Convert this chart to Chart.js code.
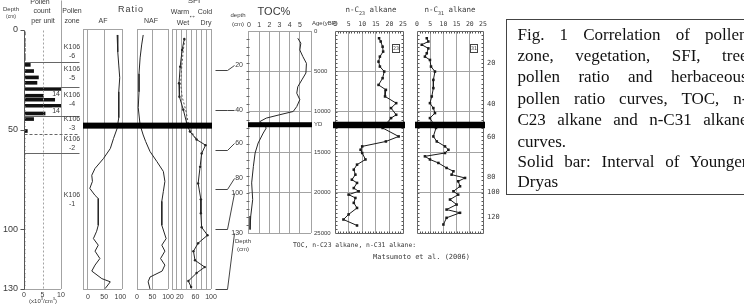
<!DOCTYPE html>
<html>
<head>
<meta charset="utf-8">
<script src="https://cdn.jsdelivr.net/npm/chart.js@4.4.1/dist/chart.umd.min.js"></script>
<style>
  body { margin: 0; background: #fff; }
  #wrap { position: relative; width: 744px; height: 305px; overflow: hidden; font-family: "Liberation Sans", "DejaVu Sans", sans-serif; color: #3a3a3a; }
  #wrap canvas { position: absolute; left: 0; top: 0; }
  .t { position: absolute; white-space: nowrap; line-height: 1; font-size: 7px; transform: translate(-50%, -50%); }
  .l { transform: translate(0, -50%); }
  .m { font-family: "DejaVu Sans Mono", monospace; }
  .sym { position: absolute; width: 6px; height: 7px; border: 1px solid #444; font: 5px "DejaVu Sans Mono", monospace; line-height: 7px; text-align: center; }
  #cap { position: absolute; left: 506px; top: 19px; width: 280px; height: 174px; border: 1.5px solid #444; }
  #cap div { position: absolute; left: 10.5px; width: 230px; height: 21px; line-height: 21px; font: 17px "Liberation Serif", serif; color: #111; white-space: nowrap; text-align: justify; text-align-last: justify; }
  #cap div.n { text-align-last: left; }
</style>
</head>
<body>
<div id="wrap">
  <canvas id="pollen" width="744" height="305"></canvas>
  <canvas id="af" width="744" height="305"></canvas>
  <canvas id="naf" width="744" height="305"></canvas>
  <canvas id="sfi" width="744" height="305"></canvas>
  <canvas id="toc" width="744" height="305"></canvas>
  <canvas id="c23" width="744" height="305"></canvas>
  <canvas id="c31" width="744" height="305"></canvas>

  <div class="t" style="left:11px;top:9px;font-size:6px">Depth</div>
  <div class="t" style="left:11px;top:16px;font-size:5px">(cm)</div>
  <div class="t" style="left:40px;top:1px">Pollen</div>
  <div class="t" style="left:42px;top:10px">count</div>
  <div class="t" style="left:43px;top:20px">per unit</div>
  <div class="t" style="left:72px;top:10px">Pollen</div>
  <div class="t" style="left:72px;top:20px">zone</div>
  <div class="t" style="left:43px;top:300px;font-size:6px">(x10<sup style="font-size:4px">3</sup>/cm<sup style="font-size:4px">3</sup>)</div>
  <div class="t" style="left:131px;top:9px;font-size:9px;letter-spacing:1px">Ratio</div>
  <div class="t" style="left:103px;top:20px">AF</div>
  <div class="t" style="left:151px;top:20px">NAF</div>
  <div class="t" style="left:194px;top:1px;font-size:8px">SFI</div>
  <div class="t" style="left:180px;top:11px">Warm</div>
  <div class="t" style="left:205px;top:11px">Cold</div>
  <div class="t" style="left:192px;top:16px;font-size:8px">&#8596;</div>
  <div class="t" style="left:183px;top:22px">Wet</div>
  <div class="t" style="left:206px;top:22px">Dry</div>
  <div class="t" style="left:238px;top:15px;font-size:6px">depth</div>
  <div class="t" style="left:238px;top:24px;font-size:6px">(cm)</div>
  <div class="t" style="left:274px;top:11px;font-size:11px">TOC%</div>
  <div class="t l" style="left:312px;top:23px;font-size:6px">Age(yBP)</div>
  <div class="t m" style="left:371px;top:11px;font-size:7.5px">n-C<sub style="font-size:5px">23</sub> alkane</div>
  <div class="t m" style="left:450px;top:11px;font-size:7.5px">n-C<sub style="font-size:5px">31</sub> alkane</div>
  <div class="t" style="left:243px;top:241px;font-size:6px">Depth</div>
  <div class="t" style="left:243px;top:249px;font-size:6px">(cm)</div>
  <div class="t l m" style="left:293px;top:245px;font-size:6.4px">TOC, n-C23 alkane, n-C31 alkane:</div>
  <div class="t l m" style="left:373px;top:257px;font-size:7px">Matsumoto et al. (2006)</div>
  <div class="sym" style="left:392px;top:44px">23</div>
  <div class="sym" style="left:470px;top:44px">31</div>

  <div id="cap">
    <div style="top:5px">Fig. 1 Correlation of pollen</div>
    <div style="top:26px">zone, vegetation, SFI, tree</div>
    <div style="top:47px">pollen ratio and herbaceous</div>
    <div style="top:69px">pollen ratio curves, TOC, n-</div>
    <div style="top:90px">C23 alkane and n-C31 alkane</div>
    <div class="n" style="top:112px">curves.</div>
    <div style="top:132px">Solid bar: Interval of Younger</div>
    <div class="n" style="top:152px">Dryas</div>
  </div>
</div>

<script>
// depth (cm) for the left panels
const depthTicks = [0, 50, 100, 130];

// pollen count per unit (x10^3/cm^3)
const pollenDepth = [1.7, 5, 7.5, 10, 12.6, 14.5, 17.5, 20.6, 23.8, 26.5, 29.6, 33, 35, 38, 41.9, 44.7, 50.7,
  55, 59, 63, 67, 71, 75, 79, 83, 87, 91, 95, 99, 103, 107, 111, 115, 119, 123, 127];
const pollenCount = [0.3, 0.3, 0.3, 0.3, 0.3, 0.3, 1.7, 2.6, 3.9, 3.5, 14, 5.3, 8.3, 14, 5.7, 2.6, 0.9,
  0.2, 0.2, 0.2, 0.2, 0.2, 0.2, 0.2, 0.2, 0.2, 0.2, 0.2, 0.2, 0.2, 0.2, 0.2, 0.2, 0.2, 0.2, 0.2];

// pollen zones
const zoneNames = ["K106\n-6", "K106\n-5", "K106\n-4", "K106\n-3", "K106\n-2", "K106\n-1"];
const zoneLabelDepth = [11, 22, 35, 47, 57, 85];
const zoneBounds = [16, 28.5, 43, 52.3, 61.7];
const zoneDashed = [false, false, false, true, false];

// tree (AF) and herbaceous (NAF) pollen ratio, %
const afDepth = [2.5, 11, 17.6, 24, 31, 37.7, 44, 49.4, 54.4, 59.5, 64.5, 69.5, 72.9, 76, 79.5, 83, 84.6, 91, 98, 101, 104.7, 108, 111, 114.7, 118, 121, 124.8, 126.4, 129.8];
const afValue = [90, 92, 95, 98, 95, 95, 95, 90, 79, 69, 48, 22, 12, 14, 6, 22, 32, 32, 32, 27, 17, 32, 22, 37, 22, 12, 43, 69, 53];
const nafDepth = [2.5, 7.5, 14, 22, 31, 39, 47.7, 52.7, 56, 61, 66, 71, 76, 81, 86, 91, 98, 104.7, 108, 111, 114.7, 118, 121, 124, 126.4, 130];
const nafValue = [20, 15, 10, 6.5, 6.5, 4, 10, 20, 28, 42, 64, 85, 90, 85, 80, 80, 80, 94, 80, 90, 76, 90, 81, 42, 36, 42];
const ratioTicks = [0, 50, 100];

// SFI
const sfiDepth = [4.5, 10, 18.4, 26.7, 33.5, 40, 47, 51, 55, 57.8, 62, 68.7, 77, 85, 92, 99, 103, 107, 111, 115.6, 119, 122, 126, 129];
const sfiValue = [31.5, 26, 21, 18, 19, 29, 38, 46, 63, 86, 76, 72, 67, 74, 74, 76, 91, 67, 55, 59, 84, 63, 42, 49];
const sfiDepth2 = [4.5, 10, 18.4, 26.7, 33.5, 40, 47, 51, 55];
const sfiValue2 = [33, 29, 25, 22, 26, 35, 42, 50, 63];
const sfiTicks = [20, 60, 100];

// TOC (%) against age (yBP)
const tocAge = [900, 1500, 2350, 3170, 4000, 5200, 6050, 6900, 7700, 8500, 9350, 9960, 10370, 10780, 11200, 12000, 12630, 13860, 15100, 16750, 18800, 20860, 22900, 24570];
const tocValue = [4.8, 5.1, 5.0, 5.3, 5.65, 5.6, 5.2, 4.8, 4.7, 5.0, 4.7, 4.35, 3.0, 1.7, 1.08, 1.7, 1.4, 0.9, 0.6, 0.43, 0.26, 0.36, 0.17, 0.1];
const tocTicks = [0, 1, 2, 3, 4, 5];
const ageTicks = [0, 5000, 10000, 15000, 20000, 25000];
const tocDepthMarks = [20, 40, 60, 80, 100, 130];
const tocDepthAge = [4200, 9780, 13860, 18190, 20050, 25000];

// n-alkanes against age (yBP)
const c23Age = [900, 1300, 1940, 2550, 3170, 3790, 4400, 5020, 5840, 6670, 7280, 8100, 8930, 9540, 10370, 10780, 12000, 13050, 13670, 14280,
  14700, 15100, 15900, 16540, 17160, 17780, 18400, 18800, 19440, 19840, 20250, 20660, 21270, 21900, 22700, 23330, 24070];
const c23Value = [16.2, 16.8, 17.5, 17.7, 16.5, 16, 16.5, 18.1, 17.5, 16, 18.7, 18.4, 22.5, 20.6, 22.5, 20.6, 17.5, 23.4, 18.7, 10,
  9.4, 10, 11.2, 8.1, 6.9, 7.5, 6.2, 8.1, 6.9, 8.7, 5, 7.5, 6.9, 8.1, 5, 3.1, 8.1];
const c31Age = [900, 1300, 1700, 2150, 2760, 3170, 3580, 4400, 5020, 6050, 7070, 8100, 8930, 9540, 10160, 10780, 12000, 13050, 13670, 14280,
  14700, 15100, 15510, 15900, 16330, 16950, 17360, 17780, 18190, 18600, 19220, 19840, 20250, 20860, 21480, 22100, 22500, 23120, 23950];
const c31Value = [3.7, 4.3, 1.8, 4.3, 3.7, 3.0, 4.9, 5.3, 6.8, 6.2, 6.2, 5.6, 4.9, 6.2, 6.8, 4.9, 7.2, 6.2, 7.5, 10.6,
  11.9, 10.6, 3.0, 4.9, 8.1, 11.2, 13.8, 13.1, 18.2, 15.6, 16.3, 13.8, 15.6, 12.5, 15, 11.2, 16.3, 11.2, 10];
const alkTicks = [0, 5, 10, 15, 20, 25];
const alkDepthMarks = [20, 40, 60, 80, 100, 120];
const alkDepthAge = [4000, 9030, 13120, 18070, 19930, 23020];

// Younger Dryas
const ydDepth = 48;
const ydAge = 11600;

const W = 744, H = 305;
const INK = "#262626", GRID = "#a3a3a3";

const pts = (ys, xs) => ys.map((y, i) => ({ x: xs[i], y }));
const snap = v => Math.round(v) + 0.5;

function path(ctx, p, color, width, dash) {
  ctx.beginPath();
  ctx.strokeStyle = color;
  ctx.lineWidth = width || 1;
  ctx.setLineDash(dash || []);
  p.forEach(([x, y], i) => (i ? ctx.lineTo(snap(x), snap(y)) : ctx.moveTo(snap(x), snap(y))));
  ctx.stroke();
  ctx.setLineDash([]);
}

function text(ctx, s, x, y, align, size, mono) {
  ctx.font = size + "px " + (mono ? '"DejaVu Sans Mono", monospace' : '"Liberation Sans", sans-serif');
  ctx.fillStyle = "#3a3a3a";
  ctx.textAlign = align;
  ctx.textBaseline = "middle";
  ctx.fillText(s, x, y);
}

function scale(min, max, grid, reverse) {
  return {
    type: "linear", min, max, reverse, offset: false,
    afterBuildTicks: s => { s.ticks = grid.map(v => ({ value: v })); },
    ticks: { display: false },
    grid: { color: GRID, lineWidth: 1, drawTicks: false, offset: false },
    border: { display: false }
  };
}

function makeChart(id, type, box, xs, ys, datasets, draw) {
  return new Chart(document.getElementById(id), {
    type,
    data: { datasets },
    options: {
      responsive: false, animation: false, devicePixelRatio: 1,
      indexAxis: "y",
      layout: { padding: { left: box[0], top: box[1], right: W - box[2], bottom: H - box[3] } },
      plugins: { legend: { display: false }, tooltip: { enabled: false } },
      scales: { x: scale(xs[0], xs[1], xs[2], false), y: scale(ys[0], ys[1], ys[2], true) }
    },
    plugins: [{ id: id + "Deco", afterDatasetsDraw: draw }]
  });
}

const curve = (data, extra) => Object.assign({
  data, borderColor: INK, borderWidth: 1, pointRadius: 0, fill: false, tension: 0, clip: false
}, extra);

function bottomLabels(chart, values) {
  const { ctx, chartArea: a, scales: { x } } = chart;
  values.forEach(v => text(ctx, String(v), x.getPixelForValue(v), a.bottom + 8, "center", 7));
}

// ---- pollen count ----
const pollenChart = makeChart("pollen", "bar", [24, 30, 61, 289], [0, 10, [10]], [0, 130, [130]],
  [{ data: pts(pollenDepth, pollenCount), backgroundColor: "#111", barThickness: 3, clip: 0 }],
  chart => {
    const { ctx, chartArea: a, scales: { x, y } } = chart;
    ctx.save();
    path(ctx, [[a.right, 0], [a.right, a.top]], GRID);
    path(ctx, [[x.getPixelForValue(5), a.top], [x.getPixelForValue(5), a.bottom]], GRID, 1, [2, 2]);
    for (let d = 2; d < 130; d += 2) {
      const py = y.getPixelForValue(d);
      path(ctx, [[a.left, py], [a.left + 1, py]], "#888");
    }
    path(ctx, [[a.left, a.top], [a.left, a.bottom]], "#555");
    depthTicks.forEach(d => {
      const py = y.getPixelForValue(d);
      path(ctx, [[a.left - 4, py], [a.left, py]], "#555");
      text(ctx, String(d), a.left - 6, py, "right", 9);
    });
    zoneBounds.forEach((d, i) => {
      const py = y.getPixelForValue(d);
      path(ctx, [[a.left, py], [a.right + 18, py]], "#666", 1, zoneDashed[i] ? [3, 2] : []);
    });
    zoneNames.forEach((n, i) => {
      const py = y.getPixelForValue(zoneLabelDepth[i]);
      const [l1, l2] = n.split("\n");
      text(ctx, l1, a.right + 11, py - 4.5, "center", 7);
      text(ctx, l2, a.right + 11, py + 4.5, "center", 7);
    });
    pollenCount.forEach((v, i) => {
      if (v <= 10) return;
      const py = y.getPixelForValue(pollenDepth[i]) + 5;
      ctx.fillStyle = "#fff";
      ctx.fillRect(a.right - 9, py - 3, 8, 6);
      text(ctx, String(v), a.right - 1, py, "right", 7);
    });
    [0, 5, 10].forEach(v => text(ctx, String(v), x.getPixelForValue(v), a.bottom + 6, "center", 7));
    ctx.restore();
  });

// ---- AF / NAF ----
const afChart = makeChart("af", "line", [83, 29, 122, 289], [-15, 105, [-15, 0, 50, 105]], [-0.5, 130, [-0.5, 130]],
  [curve(pts(afDepth, afValue))],
  chart => bottomLabels(chart, ratioTicks));

const nafChart = makeChart("naf", "line", [137, 29, 168, 289], [0, 100, [0, 50, 100]], [-0.5, 130, [-0.5, 130]],
  [curve(pts(nafDepth, nafValue))],
  chart => bottomLabels(chart, ratioTicks));

// ---- SFI ----
const sfiChart = makeChart("sfi", "line", [172, 29, 211, 289],
  [0, 100, [0, 12.5, 25, 37.5, 50, 62.5, 75, 87.5, 100]], [-0.5, 130, [-0.5, 130]],
  [curve(pts(sfiDepth, sfiValue), { pointRadius: 1.2, pointBackgroundColor: INK, pointBorderWidth: 0 }),
   curve(pts(sfiDepth2, sfiValue2), { borderDash: [2, 2], borderColor: "#555" })],
  chart => {
    const { ctx, chartArea: a, scales: { y } } = chart;
    ctx.save();
    bottomLabels(chart, sfiTicks);
    const py = y.getPixelForValue(ydDepth);
    ctx.fillStyle = "#000";
    ctx.fillRect(afChart.chartArea.left, py - 3, a.right - afChart.chartArea.left + 1, 6);
    ctx.restore();
  });

// ---- TOC ----
const tocChart = makeChart("toc", "line", [248, 31, 311, 233], [-0.1, 6.1, [-0.1, 1, 2, 3, 4, 5, 6.1]], [0, 25000, ageTicks],
  [curve(pts(tocAge, tocValue))],
  chart => {
    const { ctx, chartArea: a, scales: { x, y } } = chart;
    ctx.save();
    tocTicks.forEach(v => text(ctx, String(v), x.getPixelForValue(v), a.top - 6, "center", 7));
    for (let t = 1000; t < 25000; t += 1000) {
      const py = y.getPixelForValue(t);
      path(ctx, [[a.left - 2, py], [a.left + 1, py]], "#666");
    }
    ageTicks.forEach(t => text(ctx, String(t), a.right + 3, y.getPixelForValue(t), "left", 6));
    text(ctx, "YD", a.right + 3, y.getPixelForValue(ydAge), "left", 6);
    const sy = sfiChart.scales.y;
    tocDepthMarks.forEach((d, i) => {
      const yl = sy.getPixelForValue(d);
      const yr = y.getPixelForValue(tocDepthAge[i]);
      path(ctx, [[215, yl], [227, yl], [234, yr]], "#444");
      text(ctx, String(d), a.left - 5, yr, "right", 7);
    });
    ctx.fillStyle = "#000";
    ctx.fillRect(a.left, y.getPixelForValue(ydAge) - 2.5, a.right - a.left + 1, 5);
    ctx.restore();
  });

// ---- n-alkanes ----
function alkDeco(depthLabels) {
  return chart => {
    const { ctx, chartArea: a, scales: { x, y } } = chart;
    ctx.save();
    alkTicks.forEach(v => text(ctx, String(v), x.getPixelForValue(v), a.top - 7, "center", 6.5, true));
    for (let v = 1; v < 25; v++) {
      const px = x.getPixelForValue(v);
      path(ctx, [[px, a.top], [px, a.top + 2]], "#555");
      path(ctx, [[px, a.bottom - 2], [px, a.bottom]], "#555");
    }
    for (let t = 500; t < 25000; t += 500) {
      const py = y.getPixelForValue(t);
      path(ctx, [[a.left, py], [a.left + 2, py]], "#555");
      path(ctx, [[a.right - 2, py], [a.right, py]], "#555");
    }
    path(ctx, [[a.left, a.top], [a.right, a.top], [a.right, a.bottom], [a.left, a.bottom], [a.left, a.top]], "#666");
    if (depthLabels) {
      alkDepthMarks.forEach((d, i) => text(ctx, String(d), a.right + 4, y.getPixelForValue(alkDepthAge[i]), "left", 7, true));
    }
    ctx.fillStyle = "#000";
    ctx.fillRect(a.left - 2, y.getPixelForValue(ydAge) - 3, a.right - a.left + 4, 6.5);
    ctx.restore();
  };
}

const dotted = { pointStyle: "rect", pointRadius: 1.8, pointBackgroundColor: "#1a1a1a", pointBorderWidth: 0, borderColor: "#1a1a1a" };

makeChart("c23", "line", [335, 31, 403, 233], [0, 25, [5, 10, 15, 20]], [0, 25000, [5000, 10000, 15000, 20000]],
  [curve(pts(c23Age, c23Value), dotted)], alkDeco(false));

makeChart("c31", "line", [417, 31, 483, 233], [0, 25, [5, 10, 15, 20]], [0, 25000, [5000, 10000, 15000, 20000]],
  [curve(pts(c31Age, c31Value), dotted)], alkDeco(true));
</script>
</body>
</html>
